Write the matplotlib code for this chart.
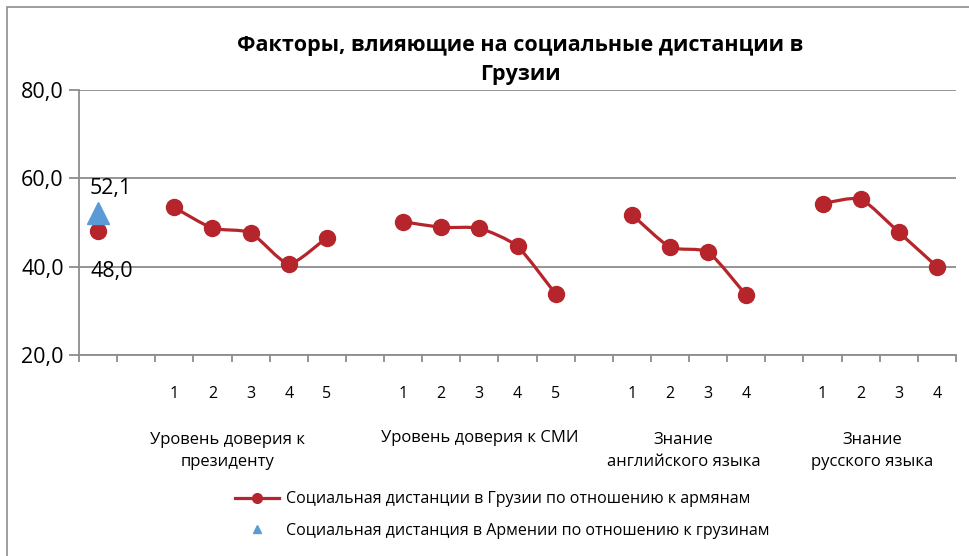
import numpy as np
import matplotlib
matplotlib.use("Agg")
import matplotlib.pyplot as plt
from matplotlib.path import Path
from matplotlib.patches import PathPatch, Rectangle
from matplotlib.lines import Line2D

plt.rcParams['font.family'] = ['Open Sans', 'DejaVu Sans']

# --- data ---
title = "Факторы, влияющие на социальные дистанции в\nГрузии"
group_names = ["Уровень доверия к\nпрезиденту", "Уровень доверия к СМИ",
               "Знание\nанглийского языка", "Знание\nрусского языка"]
group_levels = [["1", "2", "3", "4", "5"],
                ["1", "2", "3", "4", "5"],
                ["1", "2", "3", "4"],
                ["1", "2", "3", "4"]]
georgia_overall = 48.0
armenia_overall = 52.1
georgia_groups = [[53.4, 48.7, 47.7, 40.6, 46.6],
                  [50.2, 48.9, 48.7, 44.6, 33.8],
                  [51.8, 44.4, 43.3, 33.5],
                  [54.3, 55.3, 47.8, 40.0]]
series_names = ["Социальная дистанции в Грузии по отношению к армянам",
                "Социальная дистанция в Армении по отношению к грузинам"]

RED = '#B5252B'
BLUE = '#5B9BD5'
GRID = '#8C8C8C'

W, H = 969, 556
fig = plt.figure(figsize=(W / 100, H / 100), dpi=100)
ax = fig.add_axes([79 / W, 1 - 355 / H, (956 - 79) / W, (355 - 90) / H])

# category layout: overall point, gap, then groups separated by one empty slot
positions = []
labels = ["", ""]
start = 2
for lv in group_levels:
    positions.append(np.arange(start, start + len(lv)))
    labels += lv + [""]
    start += len(lv) + 1
labels = labels[:-1]
n_cat = len(labels)


def smooth_path(xs, ys, t=0.1):
    # smoothed line like Excel: cubic Bezier through the points
    pts = np.column_stack([xs, ys]).astype(float)
    verts = [pts[0]]
    codes = [Path.MOVETO]
    n = len(pts)
    for i in range(n - 1):
        p0 = pts[max(i - 1, 0)]
        p1 = pts[i]
        p2 = pts[i + 1]
        p3 = pts[min(i + 2, n - 1)]
        verts += [p1 + (p2 - p0) * t, p2 - (p3 - p1) * t, p2]
        codes += [Path.CURVE4] * 3
    return Path(verts, codes)


for xs, ys in zip(positions, georgia_groups):
    ax.add_patch(PathPatch(smooth_path(xs, ys), fill=False, edgecolor=RED,
                           lw=2.3, capstyle='round', zorder=3))
    ax.plot(xs, ys, 'o', color=RED, ms=11.5, zorder=4)

ax.plot([0], [georgia_overall], 'o', color=RED, ms=11.5, zorder=4)
ax.plot([0], [armenia_overall], '^', color=BLUE, ms=16, zorder=4)
ax.annotate(f"{armenia_overall:.1f}".replace('.', ','), (0, armenia_overall),
            xytext=(9, 10), textcoords='offset points', ha='center',
            va='bottom', fontsize=15.5)
ax.annotate(f"{georgia_overall:.1f}".replace('.', ','), (0, georgia_overall),
            xytext=(10, -21), textcoords='offset points', ha='center',
            va='top', fontsize=15.5)

ax.set_xlim(-0.5, n_cat - 0.5)
ax.set_ylim(20, 80)
ax.set_yticks([20, 40, 60, 80])
ax.set_yticklabels([f"{v:.1f}".replace('.', ',') for v in [20, 40, 60, 80]])
ax.yaxis.grid(True, color=GRID, lw=1.3)
ax.set_axisbelow(True)

ax.set_xticks(np.arange(n_cat + 1) - 0.5)
ax.set_xticklabels([])
ax.set_xticks(np.arange(n_cat), minor=True)
ax.set_xticklabels(labels, minor=True, fontsize=11.5)
ax.tick_params(axis='x', which='major', direction='out', length=5, color=GRID, width=1.3)
ax.tick_params(axis='x', which='minor', length=0, pad=22)
ax.tick_params(axis='y', direction='out', length=7, color=GRID, width=1.3,
               labelsize=15.5, pad=4)
for s in ['top', 'right']:
    ax.spines[s].set_visible(False)
for s in ['left', 'bottom']:
    ax.spines[s].set_color(GRID)
    ax.spines[s].set_linewidth(1.3)

# group labels under the level numbers
group_centers = [3.4, 10.0, 15.35, 20.3]
for name, cx in zip(group_names, group_centers):
    y = 451 if '\n' in name else 438
    fig.text(ax.transData.transform((cx, 20))[0] / W, 1 - y / H, name,
             ha='center', va='center', fontsize=12, linespacing=1.5)

fig.suptitle(title, x=520 / W, y=1 - 35 / H, fontsize=15.5, fontweight='bold',
             va='top', linespacing=1.52)

handles = [Line2D([], [], color=RED, lw=2.3, marker='o', ms=7),
           Line2D([], [], color=BLUE, lw=0, marker='^', ms=6)]
fig.legend(handles, series_names, loc='upper left',
           bbox_to_anchor=(221 / W, 1 - 477 / H), frameon=False,
           fontsize=11.5, handlelength=2.75, handletextpad=0.45, labelspacing=0.95)

fig.add_artist(Rectangle((7 / W, -0.05), 1.1, 1 - 7 / H + 0.05,
                         transform=fig.transFigure, fill=False,
                         edgecolor=GRID, lw=1.2))

fig.savefig("out.png", dpi=100)
